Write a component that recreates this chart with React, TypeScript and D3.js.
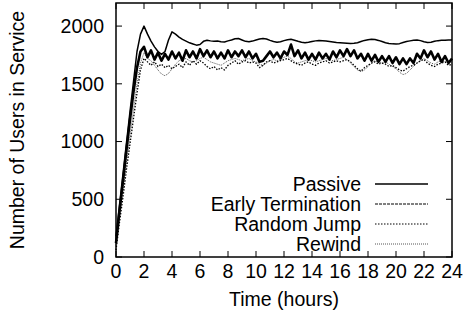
import React from 'react';
import * as d3 from 'd3';

// time grid, one sample every 15 minutes
const hours = d3.range(0, 24.001, 0.25);

const passive = [
  180, 450, 720, 990, 1260, 1520, 1780, 1930, 2000, 1930, 1870, 1820, 1780, 1755, 1780, 1880,
  1950, 1930, 1905, 1885, 1870, 1855, 1845, 1835, 1840, 1868, 1878, 1872, 1868, 1870, 1865, 1862,
  1872, 1880, 1890, 1892, 1880, 1868, 1864, 1870, 1880, 1888, 1892, 1888, 1876, 1866, 1860, 1864,
  1874, 1882, 1886, 1878, 1868, 1860, 1856, 1860, 1866, 1872, 1876, 1874, 1870, 1866, 1862, 1858,
  1856, 1854, 1852, 1850, 1852, 1856, 1866, 1876, 1882, 1886, 1884, 1876, 1866, 1856, 1850, 1846,
  1844, 1848, 1858, 1866, 1872, 1878, 1880, 1874, 1864, 1858, 1860, 1868, 1874, 1878, 1878, 1880,
  1880,
];

const earlyTermination = [
  120, 400, 660, 930, 1190, 1430, 1640, 1780, 1820, 1730, 1790, 1710, 1770, 1700, 1760, 1710,
  1780, 1720, 1770, 1700, 1790, 1730, 1780, 1720, 1800, 1740, 1790, 1730, 1780, 1720, 1770, 1720,
  1790, 1730, 1780, 1740, 1790, 1730, 1780, 1720, 1760, 1690, 1700, 1740, 1780, 1730, 1770, 1720,
  1780, 1750, 1840, 1740, 1790, 1720, 1770, 1710, 1760, 1710, 1770, 1720, 1760, 1710, 1780, 1730,
  1790, 1740, 1800, 1740, 1790, 1720, 1760, 1700, 1760, 1700, 1750, 1690, 1740, 1690, 1740, 1680,
  1730, 1670, 1720, 1670, 1720, 1680, 1760, 1720, 1790, 1730, 1780, 1710, 1760, 1690, 1740, 1680,
  1720,
];

const randomJump = [
  60, 300, 520, 760, 980, 1200, 1420, 1620, 1720, 1690, 1660, 1690, 1650, 1670, 1640, 1660,
  1630, 1650, 1670, 1640, 1690, 1660, 1700, 1670, 1700, 1680, 1650, 1630, 1650, 1620, 1640, 1620,
  1660, 1680, 1700, 1670, 1690, 1700, 1680, 1690, 1680, 1640, 1660, 1690, 1700, 1680, 1690, 1700,
  1710, 1720, 1700, 1680, 1670, 1660, 1680, 1690, 1670, 1660, 1680, 1690, 1700, 1680, 1690, 1700,
  1690, 1700, 1710, 1690, 1660, 1630, 1610, 1640, 1660, 1680, 1690, 1670, 1680, 1670, 1650, 1660,
  1640, 1620, 1610, 1630, 1650, 1660, 1680, 1700, 1710, 1680, 1660, 1650, 1670, 1680, 1690, 1660,
  1670,
];

const rewind = [
  100, 340, 580, 820, 1050, 1280, 1500, 1680, 1770, 1720, 1700, 1660, 1620, 1585, 1570, 1590,
  1630, 1670, 1700, 1710, 1720, 1700, 1690, 1700, 1720, 1730, 1710, 1690, 1680, 1670, 1660, 1680,
  1700, 1710, 1720, 1710, 1700, 1710, 1720, 1700, 1690, 1670, 1660, 1680, 1700, 1710, 1700, 1710,
  1730, 1740, 1720, 1690, 1680, 1690, 1700, 1710, 1700, 1690, 1700, 1710, 1720, 1710, 1700, 1710,
  1720, 1730, 1710, 1680, 1650, 1620, 1605, 1620, 1650, 1680, 1700, 1690, 1680, 1690, 1670, 1650,
  1630, 1600, 1580, 1590, 1620, 1650, 1680, 1700, 1720, 1700, 1680, 1670, 1690, 1700, 1690, 1680,
  1690,
];

const seriesNames = ['Passive', 'Early Termination', 'Random Jump', 'Rewind'];
const xTicks = d3.range(0, 25, 2);
const yTicks = [0, 500, 1000, 1500, 2000];

// the noisy early-termination curve reads as a solid band in the plot, dashes only show in the key
const styles = [
  { stroke: '#000', width: 1.5, legendWidth: 1.5, dash: null, legendDash: null },
  { stroke: '#000', width: 2.6, legendWidth: 1, dash: null, legendDash: '3,1' },
  { stroke: '#000', width: 1.3, legendWidth: 1, dash: '1.5,1.5', legendDash: '1.5,1.5' },
  { stroke: '#555', width: 1, legendWidth: 1, dash: '1,1', legendDash: '1,1' },
];

const font = 'Liberation Sans, Arial, Helvetica, sans-serif';
const fs = 19.5;

export default function App() {
  const width = 464;
  const height = 322;
  const left = 116, right = 452, top = 3, bottom = 257;

  const x = d3.scaleLinear().domain([0, 24]).range([left, right]);
  const y = d3.scaleLinear().domain([0, 2200]).range([bottom, top]);

  const line = d3.line<number>()
    .x((d, i) => x(hours[i]))
    .y((d) => y(d));

  const allSeries = [passive, earlyTermination, randomJump, rewind];
  const tick = 6;

  return (
    <svg width={width} height={height} style={{ position: 'absolute', left: 0, top: 0, background: 'white' }}
      fontFamily={font} fontSize={fs}>
      {/* ticks */}
      {yTicks.map((t) => (
        <g key={'y' + t}>
          <line x1={left} x2={left + tick} y1={y(t)} y2={y(t)} stroke="#000" />
          <line x1={right} x2={right - tick} y1={y(t)} y2={y(t)} stroke="#000" />
          <text x={left - 12} y={y(t)} dy="0.35em" textAnchor="end">{t}</text>
        </g>
      ))}
      {xTicks.map((t) => (
        <g key={'x' + t}>
          <line x1={x(t)} x2={x(t)} y1={bottom} y2={bottom - tick} stroke="#000" />
          <line x1={x(t)} x2={x(t)} y1={top} y2={top + tick} stroke="#000" />
          <text x={x(t)} y={bottom + 14} dy="0.35em" textAnchor="middle">{t}</text>
        </g>
      ))}

      {/* series, drawn back to front */}
      {allSeries.map((s, i) => i).reverse().map((i) => (
        <path key={'s' + i} d={line(allSeries[i]) || ''} fill="none"
          stroke={styles[i].stroke} strokeWidth={styles[i].width}
          strokeDasharray={styles[i].dash || undefined} strokeLinejoin="round" />
      ))}

      {/* legend */}
      {seriesNames.map((name, i) => (
        <g key={'l' + i} transform={`translate(0, ${184 + i * 20})`}>
          <text x={361} y={0} dy="0.35em" textAnchor="end">{name}</text>
          <line x1={375} x2={428} y1={0} y2={0} stroke={styles[i].stroke}
            strokeWidth={styles[i].legendWidth} strokeDasharray={styles[i].legendDash || undefined} />
        </g>
      ))}

      {/* frame */}
      <rect x={left} y={top} width={right - left} height={bottom - top} fill="none" stroke="#000" strokeWidth={1.5} />

      {/* axis titles */}
      <text x={(left + right) / 2} y={bottom + 42} dy="0.35em" textAnchor="middle">Time (hours)</text>
      <text transform={`translate(17, ${(top + bottom) / 2}) rotate(-90)`} dy="0.35em" textAnchor="middle">
        Number of Users in Service
      </text>
    </svg>
  );
}
